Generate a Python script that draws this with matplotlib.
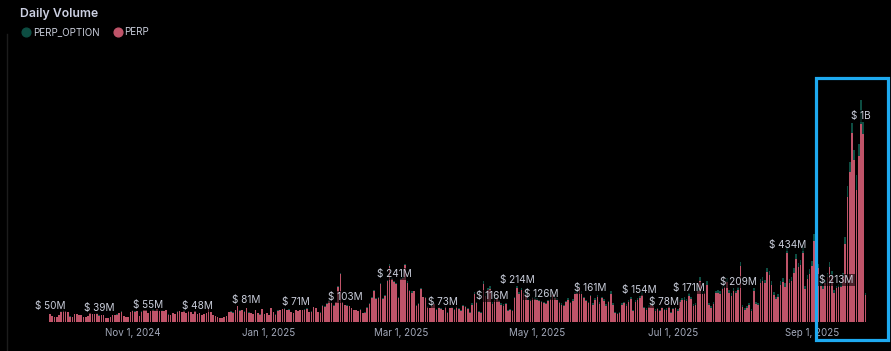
import matplotlib
matplotlib.use("Agg")
import matplotlib.pyplot as plt
import matplotlib.dates as mdates
from matplotlib.lines import Line2D
from matplotlib.patches import Rectangle
import numpy as np
import pandas as pd

# daily totals in $M (PERP + PERP_OPTION), one per day from 2024-09-25
start_date = "2024-09-25"
daily_total = [
    50, 38, 32, 30, 40, 62, 68, 66, 60, 34, 30, 50, 46, 44, 42, 32, 28, 34, 54, 48,
    46, 52, 39, 42, 40, 24, 22, 32, 40, 44, 46, 52, 62, 36, 32, 30, 60, 68, 62, 66,
    36, 62, 70, 72, 55, 66, 74, 68, 76, 64, 68, 66, 70, 46, 40, 56, 50, 62, 64, 58,
    68, 56, 64, 60, 50, 66, 48, 52, 44, 50, 55, 82, 58, 40, 36, 32, 26, 24, 30, 34,
    60, 62, 58, 72, 95, 68, 70, 62, 81, 58, 55, 48, 70, 52, 45, 75, 50, 55, 40, 85,
    60, 45, 68, 72, 78, 80, 70, 75, 60, 55, 71, 65, 70, 72, 75, 80, 60, 62, 90, 85,
    60, 58, 100, 95, 110, 130, 118, 100, 120, 210, 290, 120, 103, 100, 95, 85, 70, 72, 65, 75,
    55, 60, 90, 110, 150, 190, 140, 150, 230, 140, 160, 250, 340, 260, 241, 230, 150, 260, 265, 345,
    240, 190, 180, 185, 100, 110, 200, 150, 145, 95, 85, 100, 110, 75, 90, 80, 73, 95, 60, 85,
    90, 75, 95, 80, 70, 100, 95, 80, 60, 110, 175, 120, 65, 60, 240, 165, 200, 210, 116, 140,
    150, 130, 110, 105, 115, 70, 75, 72, 150, 214, 175, 200, 185, 170, 140, 135, 150, 145, 140, 130,
    126, 120, 115, 130, 145, 170, 150, 140, 120, 110, 100, 125, 140, 120, 135, 175, 185, 220, 180, 150,
    130, 120, 161, 110, 140, 160, 120, 150, 135, 105, 125, 180, 110, 60, 55, 58, 110, 120, 105, 130,
    150, 70, 130, 140, 154, 175, 90, 80, 100, 110, 105, 75, 85, 70, 90, 78, 80, 95, 60, 85,
    90, 75, 130, 140, 145, 135, 171, 150, 105, 110, 200, 265, 180, 185, 240, 110, 95, 120, 185, 190,
    180, 215, 225, 260, 190, 170, 200, 185, 209, 354, 100, 80, 95, 110, 75, 200, 120, 115, 255, 265,
    250, 320, 300, 240, 175, 150, 165, 240, 260, 230, 434, 255, 265, 320, 400, 350, 365, 440, 210, 280,
    310, 360, 520, 420, 345, 230, 215, 250, 290, 356, 300, 190, 213, 225, 230, 290, 500, 800, 945, 1175,
    1015, 870, 1050, 1310, 1180, 170,
]

# PERP_OPTION part of each day, $M
perp_option = [
    1, 1, 2, 1, 1, 2, 1, 1, 1, 2, 1, 1, 1, 2, 1, 1, 1, 1, 2, 1,
    1, 2, 1, 1, 1, 1, 1, 2, 1, 1, 2, 1, 1, 1, 2, 1, 1, 1, 2, 1,
    1, 1, 2, 1, 1, 2, 1, 1, 1, 2, 1, 1, 1, 2, 1, 1, 2, 1, 1, 1,
    2, 1, 1, 2, 1, 1, 2, 1, 1, 2, 1, 2, 1, 1, 2, 1, 1, 1, 2, 1,
    2, 1, 2, 1, 2, 3, 1, 2, 1, 2, 1, 2, 2, 1, 2, 1, 2, 2, 1, 2,
    2, 1, 3, 2, 2, 1, 2, 3, 2, 1, 2, 3, 2, 2, 3, 2, 2, 3, 2, 2,
    3, 2, 3, 4, 3, 4, 5, 3, 4, 6, 8, 4, 3, 4, 3, 3, 2, 3, 2, 3,
    3, 4, 5, 6, 8, 6, 5, 6, 8, 6, 6, 8, 10, 8, 7, 8, 6, 8, 8, 10,
    8, 6, 6, 5, 4, 5, 6, 5, 5, 4, 4, 5, 6, 4, 5, 5, 4, 6, 4, 5,
    6, 5, 4, 6, 5, 5, 6, 5, 6, 8, 10, 8, 6, 5, 14, 10, 12, 14, 8, 8,
    9, 8, 7, 8, 8, 6, 6, 6, 9, 12, 12, 14, 12, 10, 9, 9, 10, 10, 9, 8,
    8, 8, 7, 8, 10, 12, 10, 9, 8, 7, 6, 8, 9, 8, 9, 12, 14, 16, 12, 10,
    9, 8, 10, 12, 8, 10, 12, 9, 10, 8, 9, 16, 10, 6, 5, 6, 9, 10, 9, 12,
    14, 7, 12, 12, 14, 14, 8, 8, 10, 10, 10, 8, 8, 7, 8, 7, 8, 9, 6, 8,
    9, 8, 12, 12, 14, 12, 16, 14, 10, 10, 16, 22, 16, 16, 20, 10, 10, 12, 16, 18,
    16, 18, 20, 22, 18, 16, 18, 16, 18, 24, 12, 10, 10, 12, 10, 20, 12, 12, 22, 22,
    20, 26, 24, 20, 16, 14, 16, 22, 24, 22, 26, 22, 24, 28, 30, 26, 30, 32, 18, 24,
    26, 28, 40, 34, 28, 20, 18, 22, 26, 30, 26, 18, 12, 20, 22, 24, 40, 60, 60, 60,
    60, 90, 70, 140, 70, 10,
]

# bars that carry a value label
label_idx = [0, 22, 44, 66, 88, 110, 132, 154, 176, 198, 209, 220, 242, 264, 275,
             286, 308, 330, 352, 363]

tick_months = [1, 3, 5, 7, 9, 11]

BG = "#000000"
PERP_COLOR = "#bf5469"
OPT_COLOR = "#0d4d42"
TEXT = "#c9cdda"
TICK = "#a3a9ba"

total = np.array(daily_total, dtype=float)
opt = np.array(perp_option, dtype=float)
perp = total - opt
dates = pd.date_range(start_date, periods=len(total), freq="D")
x = mdates.date2num(dates)

plt.rcParams["font.family"] = ["Inter", "DejaVu Sans"]

W, H = 891, 351
fig = plt.figure(figsize=(W / 100, H / 100), dpi=100, facecolor=BG)

# plot area in pixels: bars from x=50 (first) to ~865 (last), baseline y=322
px_per_day = 2.234
ax_left, ax_right, ax_top, ax_bottom = 40, 876, 80, 322
ax = fig.add_axes([ax_left / W, 1 - ax_bottom / H,
                   (ax_right - ax_left) / W, (ax_bottom - ax_top) / H])
ax.set_facecolor(BG)

ax.bar(x, perp, width=0.72, color=PERP_COLOR, linewidth=0)
ax.bar(x, opt, bottom=perp, width=0.72, color=OPT_COLOR, linewidth=0)

ax.set_xlim(x[0] - (50 - ax_left) / px_per_day, x[0] + (ax_right - 50) / px_per_day)
ax.set_ylim(0, (ax_bottom - ax_top) * 5.9)

ax.xaxis.set_major_locator(mdates.MonthLocator(bymonth=tick_months))
ax.xaxis.set_major_formatter(mdates.DateFormatter("%b %-d, %Y"))
ax.tick_params(axis="x", length=0, colors=TICK, labelsize=7, pad=4)
ax.set_yticks([])
for s in ax.spines.values():
    s.set_visible(False)


def money(v):
    if v >= 1000:
        return f"$ {v / 1000:.0f}B"
    return f"$ {v:.0f}M"


for i in label_idx:
    ax.annotate(money(total[i]), xy=(x[i], perp[i]), xytext=(0, 8),
                textcoords="offset pixels", ha="center", va="center",
                fontsize=7.2, color=TEXT,
                bbox=dict(boxstyle="square,pad=0.1", fc=BG, ec="none", alpha=0.6))

# title and legend
fig.text(20 / W, 1 - 14 / H, "Daily Volume", fontsize=8.8, fontweight="semibold",
         color="#ccd0e2", ha="left", va="center")
handles = [Line2D([], [], ls="", marker="o", ms=6.3, color=OPT_COLOR),
           Line2D([], [], ls="", marker="o", ms=6.3, color=PERP_COLOR)]
fig.legend(handles, ["PERP_OPTION", "PERP"], loc="center left",
           bbox_to_anchor=(22 / W, 1 - 32 / H), ncol=2, frameon=False,
           fontsize=7, labelcolor=TEXT, handlelength=0.8, handletextpad=0.3,
           columnspacing=1.5, borderpad=0, borderaxespad=0)

# faint panel edge on the left
fig.add_artist(Line2D([6.5 / W, 6.5 / W], [0, 1 - 34 / H], color="#1c1c1c", lw=1))

# highlight box around the last weeks
fig.add_artist(Rectangle((815.5 / W, 1 - 340 / H), 72.5 / W, 262 / H,
                         transform=fig.transFigure, fill=False,
                         ec="#1eaaf0", lw=2.3))

fig.savefig("out.png", dpi=100, facecolor=BG)
